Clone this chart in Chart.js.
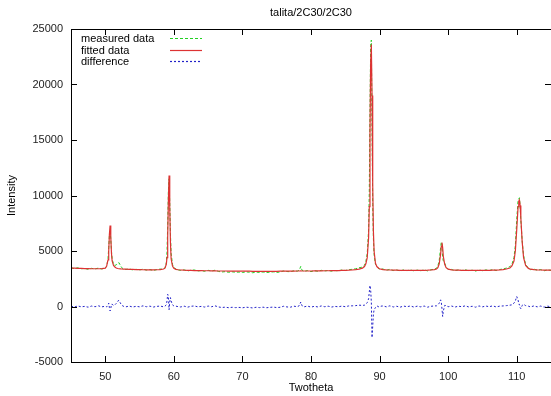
<!DOCTYPE html>
<html>
<head>
<meta charset="utf-8">
<script src="https://cdn.jsdelivr.net/npm/chart.js@4.4.1/dist/chart.umd.min.js"></script>
<style>
  html, body { margin: 0; padding: 0; background: #fff; }
  #wrap { width: 551px; height: 396px; }
</style>
</head>
<body>
<div id="wrap"><canvas id="xrdChart"></canvas></div>
<script>
// 2theta positions (coarse on background, finer around the peaks)
const twotheta = [
	45, 45.5, 46, 46.5, 47, 47.5, 48, 48.5, 49, 49.5, 50,
	50.2, 50.4, 50.5, 50.6, 50.7, 50.8, 50.9, 51.0, 51.2, 51.4, 51.6, 51.8, 52.0, 52.2, 52.4, 52.6, 53.0,
	53.5, 54, 54.5, 55, 55.5, 56, 56.5, 57, 57.5, 58, 58.5,
	58.7, 58.9, 59.0, 59.1, 59.2, 59.3, 59.4, 59.5, 59.6, 59.8, 60.0, 60.3, 60.6,
	61, 61.5, 62, 62.5, 63, 63.5, 64, 64.5, 65, 65.5, 66, 66.5, 67, 67.5, 68, 68.5, 69, 69.5, 70, 70.5,
	71, 71.5, 72, 72.5, 73, 73.5, 74, 74.5, 75, 75.5, 76, 76.5, 77, 77.5, 78,
	78.3, 78.5, 78.7,
	79, 79.5, 80, 80.5, 81, 81.5, 82, 82.5, 83, 83.5, 84, 84.5, 85, 85.5, 86, 86.5, 87, 87.5,
	87.8, 88.0, 88.2, 88.4, 88.5, 88.6, 88.7, 88.8, 88.9, 89.0, 89.1, 89.2, 89.4, 89.6, 89.9, 90.2,
	90.5, 91, 91.5, 92, 92.5, 93, 93.5, 94, 94.5, 95, 95.5, 96, 96.5, 97, 97.5, 98,
	98.3, 98.5, 98.7, 98.9, 99.0, 99.1, 99.2, 99.3, 99.5, 99.7, 100.0,
	100.5, 101, 101.5, 102, 102.5, 103, 103.5, 104, 104.5, 105, 105.5, 106, 106.5, 107, 107.5, 108, 108.5, 109,
	109.3, 109.6, 109.8, 110.0, 110.2, 110.3, 110.4, 110.5, 110.6, 110.8, 111.0, 111.3, 111.7,
	112, 112.5, 113, 113.5, 114, 114.5, 115
];

const measured = [
	3490, 3410, 3490, 3400, 3430, 3350, 3440, 3380, 3460, 3380, 3470,
	3620, 4300, 5300, 6400, 6900, 6100, 5000, 4300, 3800, 3700, 3750, 3900, 3950, 3700, 3500, 3400, 3330,
	3390, 3290, 3350, 3290, 3370, 3280, 3330, 3250, 3320, 3370, 3350,
	3480, 3950, 4900, 7300, 10400, 11500, 9400, 6600, 4800, 3800, 3500, 3380, 3300,
	3250, 3300, 3200, 3270, 3290, 3200, 3240, 3170, 3260, 3190, 3270, 3160, 3110, 3140, 3080, 3120, 3090, 3100, 3060, 3120,
	3090, 3040, 3100, 3070, 3110, 3060, 3090, 3120, 3070, 3110, 3200, 3150, 3130, 3220, 3180,
	3280, 3610, 3260,
	3170, 3240, 3140, 3230, 3170, 3260, 3200, 3250, 3180, 3240, 3210, 3290, 3240, 3320, 3350, 3400, 3490, 3550,
	3720, 4050, 4750, 6900, 10300, 17400, 23500, 24000, 16200, 9200, 6100, 4700, 3800, 3660, 3380, 3390,
	3370, 3270, 3350, 3240, 3290, 3200, 3300, 3230, 3300, 3200, 3280, 3220, 3300, 3210, 3310, 3370,
	3440, 3650, 4150, 5300, 5800, 5550, 4400, 4100, 3900, 3580, 3340,
	3340, 3230, 3300, 3240, 3320, 3210, 3270, 3190, 3300, 3220, 3300, 3240, 3330, 3240, 3330, 3380, 3460, 3590,
	3800, 4400, 5500, 7800, 9600, 9700, 9800, 9000, 7800, 5900, 4600, 3780, 3460,
	3320, 3370, 3270, 3330, 3220, 3300, 3250
];

const fitted = [
	3460, 3450, 3440, 3430, 3420, 3410, 3400, 3400, 3400, 3410, 3450,
	3650, 4200, 5000, 6500, 7300, 6300, 4800, 4100, 3700, 3550, 3470, 3420, 3400, 3390, 3380, 3370, 3360,
	3350, 3340, 3330, 3320, 3310, 3300, 3300, 3300, 3310, 3330, 3380,
	3450, 3800, 4400, 6200, 9500, 11800, 9000, 5800, 4300, 3650, 3450, 3350, 3310,
	3290, 3270, 3260, 3250, 3240, 3230, 3230, 3220, 3220, 3210, 3210, 3200, 3200, 3200, 3190, 3190, 3190, 3180, 3180, 3180,
	3180, 3170, 3170, 3170, 3170, 3170, 3170, 3170, 3170, 3180, 3180, 3190, 3190, 3190, 3200,
	3200, 3210, 3200,
	3200, 3200, 3200, 3210, 3210, 3210, 3220, 3220, 3230, 3230, 3240, 3250, 3260, 3270, 3290, 3320, 3370, 3450,
	3600, 3850, 4400, 6200, 9000, 15500, 22000, 23600, 19000, 11000, 6800, 5000, 3900, 3600, 3420, 3360,
	3320, 3300, 3290, 3280, 3270, 3260, 3260, 3250, 3250, 3250, 3250, 3250, 3260, 3270, 3290, 3320,
	3380, 3500, 3850, 4700, 5400, 5750, 5300, 4500, 3800, 3500, 3360,
	3300, 3280, 3270, 3260, 3260, 3250, 3250, 3250, 3250, 3250, 3260, 3260, 3270, 3280, 3300, 3330, 3380, 3470,
	3650, 4100, 5000, 6900, 9000, 9500, 9600, 9100, 8000, 5800, 4400, 3700, 3430,
	3360, 3320, 3300, 3290, 3280, 3270, 3270
];

const difference = [
	30, -40, 50, -30, 10, -60, 40, -20, 60, -30, 20,
	-30, 100, 300, -100, -400, -200, 200, 200, 100, 150, 280, 480, 550, 310, 120, 30, -30,
	40, -50, 20, -30, 60, -20, 30, -50, 10, 40, -30,
	30, 150, 500, 1100, 900, -300, 400, 800, 500, 150, 50, 30, -10,
	-40, 30, -60, 20, 50, -30, 10, -50, 40, -20, 60, -40, -90, -60, -110, -70, -100, -80, -120, -60,
	-90, -130, -70, -100, -60, -110, -80, -50, -100, -70, 20, -40, -60, 30, -20,
	80, 400, 60,
	-30, 40, -60, 20, -40, 50, -20, 30, -50, 10, -30, 40, -20, 50, 60, 80, 120, 100,
	120, 200, 350, 700, 1300, 1900, 1500, 400, -2800, -1800, -700, -300, -100, 60, -40, 30,
	50, -30, 60, -40, 20, -60, 40, -20, 50, -50, 30, -30, 40, -60, 20, 50,
	60, 150, 300, 600, 400, -200, -900, -400, 100, 80, -20,
	40, -50, 30, -20, 60, -40, 20, -60, 50, -30, 40, -20, 60, -40, 30, 50, 80, 120,
	150, 300, 500, 900, 600, 200, 200, -100, -200, 100, 200, 80, 30,
	-40, 50, -30, 40, -60, 30, -20
];

const xTicks = [50, 60, 70, 80, 90, 100, 110];
const yTicks = [-5000, 0, 5000, 10000, 15000, 20000, 25000];
const seriesNames = ['measured data', 'fitted data', 'difference'];
const chartTitle = 'talita/2C30/2C30';

const FONT = { family: '"Liberation Sans", Arial, sans-serif', size: 11 };
const colors = { measured: '#22d022', fitted: '#dd3333', difference: '#2222c8' };
const dashes = { measured: [3, 2], fitted: [], difference: [2, 2] };

const toPoints = ys => twotheta.map((x, i) => ({ x: x, y: ys[i] }));

// gnuplot look: frame, inward ticks on all sides, title over the plot, legend inside
const gnuplotFrame = {
	id: 'gnuplotFrame',
	afterDraw(chart) {
		const { ctx, chartArea: a, scales: { x, y } } = chart;
		ctx.save();
		ctx.strokeStyle = '#000';
		ctx.lineWidth = 1;
		ctx.setLineDash([]);
		ctx.strokeRect(a.left + 0.5, a.top + 0.5, a.right - a.left, a.bottom - a.top);

		ctx.beginPath();
		xTicks.forEach(v => {
			const px = Math.round(x.getPixelForValue(v)) + 0.5;
			ctx.moveTo(px, a.bottom); ctx.lineTo(px, a.bottom - 6);
			ctx.moveTo(px, a.top); ctx.lineTo(px, a.top + 6);
		});
		yTicks.forEach(v => {
			const py = Math.round(y.getPixelForValue(v)) + 0.5;
			ctx.moveTo(a.left, py); ctx.lineTo(a.left + 6, py);
			ctx.moveTo(a.right, py); ctx.lineTo(a.right - 6, py);
		});
		ctx.stroke();

		ctx.fillStyle = '#000';
		ctx.font = FONT.size + 'px ' + FONT.family;
		ctx.textAlign = 'center';
		ctx.textBaseline = 'middle';
		ctx.fillText(chartTitle, (a.left + a.right) / 2, 13);

		// legend
		const keys = ['measured', 'fitted', 'difference'];
		ctx.textAlign = 'left';
		keys.forEach((k, i) => {
			const ly = Math.round(a.top + 10 + i * 11.5);
			ctx.fillStyle = '#000';
			ctx.fillText(seriesNames[i], a.left + 10, ly);
			ctx.strokeStyle = colors[k];
			ctx.lineWidth = 1.2;
			ctx.setLineDash(dashes[k]);
			ctx.beginPath();
			ctx.moveTo(a.left + 99, ly - 0.5);
			ctx.lineTo(a.left + 131, ly - 0.5);
			ctx.stroke();
		});
		ctx.restore();
	}
};

new Chart(document.getElementById('xrdChart'), {
	type: 'line',
	data: {
		datasets: [{
			label: seriesNames[1],
			data: toPoints(fitted),
			borderColor: colors.fitted,
			borderWidth: 1.2,
			pointRadius: 0,
			tension: 0
		}, {
			label: seriesNames[0],
			data: toPoints(measured),
			borderColor: colors.measured,
			borderDash: dashes.measured,
			borderWidth: 1,
			pointRadius: 0,
			tension: 0
		}, {
			label: seriesNames[2],
			data: toPoints(difference),
			borderColor: colors.difference,
			borderDash: dashes.difference,
			borderWidth: 1,
			pointRadius: 0,
			tension: 0
		}]
	},
	options: {
		responsive: true,
		maintainAspectRatio: false,
		animation: false,
		layout: { padding: { top: 29, right: 0, bottom: 0, left: 0 } },
		plugins: {
			legend: { display: false },
			tooltip: { enabled: false }
		},
		scales: {
			x: {
				type: 'linear',
				min: 45,
				max: 115,
				afterBuildTicks: s => { s.ticks = xTicks.map(v => ({ value: v })); },
				afterFit: s => { s.height = 34; },
				grid: { display: false, drawTicks: false },
				border: { display: false },
				ticks: { font: FONT, color: '#222', padding: 8, maxRotation: 0, callback: v => String(v) },
				title: { display: true, text: 'Twotheta', font: FONT, color: '#000', padding: { top: 0, bottom: 1 } }
			},
			y: {
				min: -5000,
				max: 25000,
				afterBuildTicks: s => { s.ticks = yTicks.map(v => ({ value: v })); },
				afterFit: s => { s.width = 71; },
				grid: { display: false, drawTicks: false },
				border: { display: false },
				ticks: { font: FONT, color: '#222', padding: 8, callback: v => String(v) },
				title: { display: true, text: 'Intensity', font: FONT, color: '#000', padding: { top: 5, bottom: 0 } }
			}
		}
	},
	plugins: [gnuplotFrame]
});
</script>
</body>
</html>
